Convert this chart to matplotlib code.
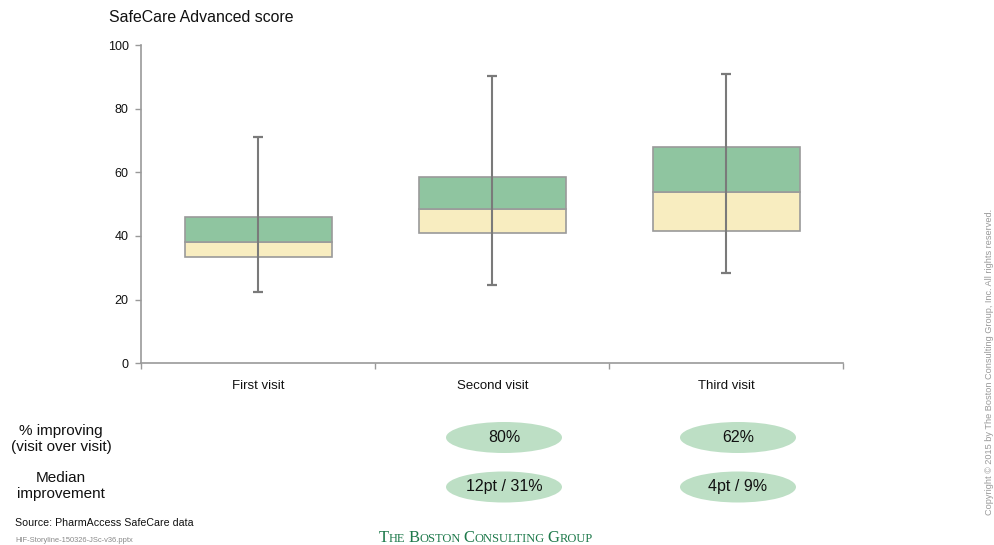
import matplotlib
matplotlib.use("Agg")
import matplotlib.pyplot as plt
from matplotlib.patches import Ellipse
from matplotlib.transforms import blended_transform_factory
import numpy as np

plt.rcParams['font.family'] = ['Liberation Sans', 'DejaVu Sans']

categories = ["First visit", "Second visit", "Third visit"]
whisker_low = [22.3, 24.5, 28.3]
q1 = [33.5, 41.0, 41.7]
median = [38.2, 48.5, 53.8]
q3 = [46.0, 58.6, 68.0]
whisker_high = [71.0, 90.3, 90.8]
improving_pct = [None, "80%", "62%"]
median_improvement = [None, "12pt / 31%", "4pt / 9%"]
yticks = [0, 20, 40, 60, 80, 100]

W, H = 994, 545
fig = plt.figure(figsize=(W / 100, H / 100), dpi=100)
ax = fig.add_axes([141.3 / W, 1 - 363.3 / H, (843.3 - 141.3) / W, (363.3 - 45) / H])

x = np.arange(len(categories))
green = "#8FC5A0"
yellow = "#F8EDC0"
edge = "#9A9A9A"
wcol = "#7A7A7A"
bw = 0.626

ax.bar(x, np.array(median) - np.array(q1), bottom=q1, width=bw, color=yellow,
       edgecolor=edge, linewidth=1.2, zorder=2)
ax.bar(x, np.array(q3) - np.array(median), bottom=median, width=bw, color=green,
       edgecolor=edge, linewidth=1.2, zorder=2)
ax.vlines(x, whisker_low, whisker_high, color=wcol, linewidth=1.5, zorder=3)
ax.hlines(whisker_low, x - 0.022, x + 0.022, color=wcol, linewidth=1.6, zorder=3)
ax.hlines(whisker_high, x - 0.022, x + 0.022, color=wcol, linewidth=1.6, zorder=3)

ax.set_xlim(-0.5, len(categories) - 0.5)
ax.set_ylim(0, 100)
ax.set_yticks(yticks)
ax.set_yticklabels([str(v) for v in yticks], fontsize=9, color="#111111")
ax.set_xticks(x)
ax.set_xticklabels(categories, fontsize=9.5, color="#111111")
ax.tick_params(axis='x', length=0, pad=12)
ax.set_xticks(np.arange(len(categories) + 1) - 0.5, minor=True)
ax.tick_params(axis='x', which='minor', length=4, color="#999999", width=1)
ax.tick_params(axis='y', length=4, color="#999999", width=1, pad=5)
for s in ["top", "right"]:
    ax.spines[s].set_visible(False)
for s in ["left", "bottom"]:
    ax.spines[s].set_color("#999999")
    ax.spines[s].set_linewidth(1.2)

fig.text(109 / W, 1 - 18 / H, "SafeCare Advanced score", fontsize=11.4, ha="left", va="center", color="#111111")

# Bottom table
fig.text(61 / W, 1 - 439 / H, "% improving\n(visit over visit)", fontsize=11, ha="center", va="center",
         linespacing=1.2, color="#111111")
fig.text(61 / W, 1 - 486 / H, "Median\nimprovement", fontsize=11, ha="center", va="center",
         linespacing=1.2, color="#111111")

tr = blended_transform_factory(ax.transData, fig.transFigure)
ell_color = "#BDDFC5"
for i in range(len(categories)):
    for lab, yy in ((improving_pct[i], 437.5), (median_improvement[i], 487)):
        if lab is None:
            continue
        e = Ellipse((x[i] + 0.05, 1 - yy / H), width=116 / 234, height=31 / H,
                    transform=tr, facecolor=ell_color, edgecolor="none", clip_on=False)
        fig.add_artist(e)
        fig.text(x[i] + 0.05, 1 - yy / H, lab, transform=tr,
                 fontsize=11.5, ha="center", va="center", color="#111111")

fig.text(15 / W, 1 - 522.5 / H, "Source: PharmAccess SafeCare data", fontsize=7.7, ha="left", va="center",
         color="#111111")
fig.text(15 / W, 1 - 540 / H, "HIF-Storyline-150326-JSc-v36.pptx", fontsize=5.4, ha="left", va="center",
         color="#888888")

fig.text(989 / W, 1 - 362 / H, "Copyright \u00a9 2015 by The Boston Consulting Group, Inc. All rights reserved.",
         fontsize=6.6, rotation=90, ha="center", va="center", color="#999999")

# Logo in small caps
fig.canvas.draw()
renderer = fig.canvas.get_renderer()
logo_col = "#1F7A4C"
chunks = [("T", 12), ("HE", 9), (" ", 9), ("B", 12), ("OSTON", 9), (" ", 9), ("C", 12), ("ONSULTING", 9),
          (" ", 9), ("G", 12), ("ROUP", 9)]
xpos = 379
for txt, sz in chunks:
    t = fig.text(xpos / W, 1 - 542 / H, txt, fontsize=sz, family="Liberation Serif", color=logo_col,
                 ha="left", va="baseline")
    bb = t.get_window_extent(renderer)
    xpos += bb.width if txt != " " else sz * 0.3

fig.savefig("out.png", dpi=100)
